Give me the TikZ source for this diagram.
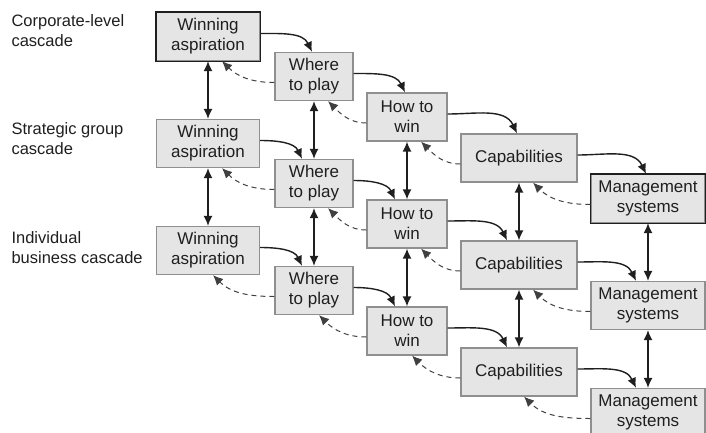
\documentclass[tikz,border=0pt]{standalone}
\usepackage{fontspec}
\setmainfont{Liberation Sans}
\usepackage{tikz}
\usetikzlibrary{arrows.meta}
\definecolor{boxfill}{rgb}{0.9,0.9,0.9}
\definecolor{boxline}{rgb}{0.56,0.56,0.56}
\definecolor{ink}{rgb}{0.12,0.12,0.12}

\begin{document}
\begin{tikzpicture}[x=1pt,y=1pt,
  box/.style={draw=boxline,fill=boxfill,line width=1.2pt,minimum height=48pt,inner sep=0pt,align=center,text=ink,font=\fontsize{17}{20}\selectfont},
  lvl/.style={anchor=west,align=left,text=ink,font=\fontsize{16.5}{20}\selectfont},
  fwd/.style={draw=ink,line width=1.4pt,-{Latex[length=10pt,width=9pt]}},
  back/.style={draw=ink!85,line width=1pt,dash pattern=on 5pt off 4pt,-{Latex[length=10pt,width=9pt]}},
  link/.style={draw=ink,line width=1.4pt,{Latex[length=10pt,width=9pt]}-{Latex[length=10pt,width=9pt]}}]
\useasboundingbox (0,0) rectangle (706,-432);
%\draw[step=50,lightgray,very thin] (0,0) grid (706,-432);

% levels
\node[lvl] (corp) at (8,-31) {Corporate-level\\cascade};
\node[lvl] (strat) at (8,-139) {Strategic group\\cascade};
\node[lvl] (indiv) at (8,-248) {Individual\\business cascade};

% the three cascades
\foreach \r/\dy in {1/0,2/107,3/214} {
  \node[box,minimum width=103pt] (wa\r) at (208,-36.5-\dy) {Winning\\aspiration};
  \node[box,minimum width=78pt] (wh\r) at (314,-76.5-\dy) {Where\\to play};
  \node[box,minimum width=80pt] (hw\r) at (407,-117-\dy) {How to\\win};
  \node[box,minimum width=116pt] (cp\r) at (519,-158-\dy) {Capabilities};
  \node[box,minimum width=114pt] (mg\r) at (648,-198.5-\dy) {Management\\systems};
}
\draw[ink,line width=1.2pt] (wa1.south west) rectangle (wa1.north east);
\draw[ink,line width=1.2pt] (mg1.south west) rectangle (mg1.north east);

% forward and feedback links
\foreach \r/\tx/\bx in {1/-2/14,2/-12/14,3/-12/5} {
  \foreach \a/\b in {wa/wh,wh/hw,hw/cp,cp/mg} {
    \draw[fwd] ([yshift=3pt]\a\r.east) to[out=0,in=115] ([xshift=\tx pt]\b\r.north);
    \draw[back] ([yshift=-6pt]\b\r.west) to[out=180,in=-45] ([xshift=\bx pt]\a\r.south);
  }
}

% between levels
\foreach \c in {wa,wh,hw,cp,mg} {
  \draw[link] (\c1.south) -- (\c2.north);
  \draw[link] (\c2.south) -- (\c3.north);
}
\end{tikzpicture}
\end{document}
